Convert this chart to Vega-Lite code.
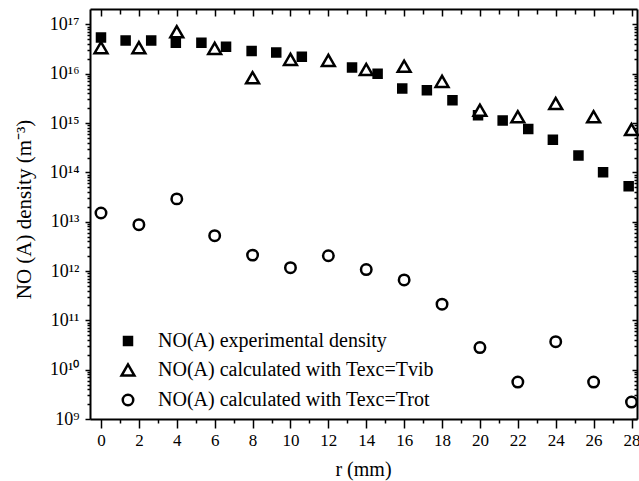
{
  "$schema": "https://vega.github.io/schema/vega-lite/v6.json",
  "autosize": {"type": "none"},
  "padding": {"left": 90, "top": 9, "right": 2, "bottom": 62},
  "width": 547,
  "height": 410,
  "background": "white",
  "config": {
    "view": {"stroke": null},
    "font": "Liberation Serif",
    "axis": {"domainColor": "black", "tickColor": "black", "labelColor": "black", "titleColor": "black", "grid": false, "domainWidth": 2, "tickWidth": 1.5, "labelFont": "Liberation Serif", "titleFont": "Liberation Serif", "labelFlush": false, "labelOverlap": false},
    "legend": {
      "orient": "none", "legendX": 28, "legendY": 322, "title": null, "padding": 0,
      "labelFontSize": 20, "labelFont": "Liberation Serif", "labelColor": "black", "labelLimit": 500,
      "labelOffset": 20, "rowPadding": 8, "symbolStrokeWidth": 2.5, "symbolOpacity": 1
    }
  },
  "datasets": {
    "pts": [
      {"series": "NO(A) experimental density", "r": 0, "density": 5.4e16},
      {"series": "NO(A) experimental density", "r": 1.3, "density": 4.7e16},
      {"series": "NO(A) experimental density", "r": 2.65, "density": 4.7e16},
      {"series": "NO(A) experimental density", "r": 3.95, "density": 4.25e16},
      {"series": "NO(A) experimental density", "r": 5.3, "density": 4.25e16},
      {"series": "NO(A) experimental density", "r": 6.6, "density": 3.5e16},
      {"series": "NO(A) experimental density", "r": 7.95, "density": 2.9e16},
      {"series": "NO(A) experimental density", "r": 9.25, "density": 2.7e16},
      {"series": "NO(A) experimental density", "r": 10.6, "density": 2.2e16},
      {"series": "NO(A) experimental density", "r": 13.25, "density": 1.34e16},
      {"series": "NO(A) experimental density", "r": 14.6, "density": 1.0e16},
      {"series": "NO(A) experimental density", "r": 15.9, "density": 5.0e15},
      {"series": "NO(A) experimental density", "r": 17.2, "density": 4.6e15},
      {"series": "NO(A) experimental density", "r": 18.55, "density": 2.9e15},
      {"series": "NO(A) experimental density", "r": 19.9, "density": 1.44e15},
      {"series": "NO(A) experimental density", "r": 21.2, "density": 1.12e15},
      {"series": "NO(A) experimental density", "r": 22.55, "density": 7.6e14},
      {"series": "NO(A) experimental density", "r": 23.85, "density": 4.6e14},
      {"series": "NO(A) experimental density", "r": 25.2, "density": 2.2e14},
      {"series": "NO(A) experimental density", "r": 26.5, "density": 1.0e14},
      {"series": "NO(A) experimental density", "r": 27.85, "density": 5.2e13},
      {"series": "NO(A) calculated with Texc=Tvib", "r": 0, "density": 3.37e16},
      {"series": "NO(A) calculated with Texc=Tvib", "r": 2, "density": 3.37e16},
      {"series": "NO(A) calculated with Texc=Tvib", "r": 4, "density": 7.1e16},
      {"series": "NO(A) calculated with Texc=Tvib", "r": 6, "density": 3.26e16},
      {"series": "NO(A) calculated with Texc=Tvib", "r": 8, "density": 8.3e15},
      {"series": "NO(A) calculated with Texc=Tvib", "r": 10, "density": 1.95e16},
      {"series": "NO(A) calculated with Texc=Tvib", "r": 12, "density": 1.86e16},
      {"series": "NO(A) calculated with Texc=Tvib", "r": 14, "density": 1.22e16},
      {"series": "NO(A) calculated with Texc=Tvib", "r": 16, "density": 1.42e16},
      {"series": "NO(A) calculated with Texc=Tvib", "r": 18, "density": 7.0e15},
      {"series": "NO(A) calculated with Texc=Tvib", "r": 20, "density": 1.82e15},
      {"series": "NO(A) calculated with Texc=Tvib", "r": 22, "density": 1.34e15},
      {"series": "NO(A) calculated with Texc=Tvib", "r": 24, "density": 2.49e15},
      {"series": "NO(A) calculated with Texc=Tvib", "r": 26, "density": 1.34e15},
      {"series": "NO(A) calculated with Texc=Tvib", "r": 28, "density": 7.4e14},
      {"series": "NO(A) calculated with Texc=Trot", "r": 0, "density": 1.5e13},
      {"series": "NO(A) calculated with Texc=Trot", "r": 2, "density": 8.7e12},
      {"series": "NO(A) calculated with Texc=Trot", "r": 4, "density": 2.9e13},
      {"series": "NO(A) calculated with Texc=Trot", "r": 6, "density": 5.2e12},
      {"series": "NO(A) calculated with Texc=Trot", "r": 8, "density": 2.1e12},
      {"series": "NO(A) calculated with Texc=Trot", "r": 10, "density": 1.17e12},
      {"series": "NO(A) calculated with Texc=Trot", "r": 12, "density": 2.04e12},
      {"series": "NO(A) calculated with Texc=Trot", "r": 14, "density": 1.07e12},
      {"series": "NO(A) calculated with Texc=Trot", "r": 16, "density": 6.6e11},
      {"series": "NO(A) calculated with Texc=Trot", "r": 18, "density": 2.13e11},
      {"series": "NO(A) calculated with Texc=Trot", "r": 20, "density": 2.8e10},
      {"series": "NO(A) calculated with Texc=Trot", "r": 22, "density": 5.6e9},
      {"series": "NO(A) calculated with Texc=Trot", "r": 24, "density": 3.7e10},
      {"series": "NO(A) calculated with Texc=Trot", "r": 26, "density": 5.6e9},
      {"series": "NO(A) calculated with Texc=Trot", "r": 28, "density": 2.2e9}
    ]
  },
  "data": {"name": "pts"},
  "layer": [
    {
      "mark": {"type": "point", "strokeWidth": 2.5, "opacity": 1},
      "encoding": {
        "x": {
          "field": "r", "type": "quantitative",
          "scale": {"domain": [-0.58, 28.29], "nice": false, "zero": false},
          "axis": {
            "orient": "bottom",
            "values": [0,1,2,3,4,5,6,7,8,9,10,11,12,13,14,15,16,17,18,19,20,21,22,23,24,25,26,27,28],
            "labelExpr": "datum.value % 2 === 0 ? datum.label : ''",
            "tickSize": {"condition": {"test": "datum.value % 2 === 0", "value": 9}, "value": 4},
            "labelFontSize": 17,
            "labelPadding": 4,
            "title": "r (mm)",
            "titleFontSize": 20,
            "titleFontWeight": "normal",
            "titleX": 273,
            "titleY": 50,
            "titleBaseline": "middle",
            "titleAlign": "center"
          }
        },
        "y": {
          "field": "density", "type": "quantitative",
          "scale": {"type": "log", "domain": [1e9, 2.05e17], "nice": false},
          "axis": {
            "orient": "left",
            "values": [1e9,2e9,3e9,4e9,5e9,6e9,7e9,8e9,9e9,1e10,2e10,3e10,4e10,5e10,6e10,7e10,8e10,9e10,1e11,2e11,3e11,4e11,5e11,6e11,7e11,8e11,9e11,1e12,2e12,3e12,4e12,5e12,6e12,7e12,8e12,9e12,1e13,2e13,3e13,4e13,5e13,6e13,7e13,8e13,9e13,1e14,2e14,3e14,4e14,5e14,6e14,7e14,8e14,9e14,1e15,2e15,3e15,4e15,5e15,6e15,7e15,8e15,9e15,1e16,2e16,3e16,4e16,5e16,6e16,7e16,8e16,9e16,1e17],
            "labelExpr": "abs(log(datum.value)/LN10 - round(log(datum.value)/LN10)) < 0.001 ? '10' + ['⁹','¹⁰','¹¹','¹²','¹³','¹⁴','¹⁵','¹⁶','¹⁷'][round(log(datum.value)/LN10) - 9] : ''",
            "tickSize": {"condition": {"test": "abs(log(datum.value)/LN10 - round(log(datum.value)/LN10)) < 0.001", "value": 5}, "value": 3},
            "labelFontSize": 18,
            "labelPadding": 6,
            "title": "NO (A) density (m⁻³)",
            "titleFontSize": 21,
            "titleFontWeight": "normal",
            "titleX": -66,
            "titleY": 200,
            "titleAngle": -90,
            "titleBaseline": "middle",
            "titleAlign": "center"
          }
        },
        "shape": {
          "field": "series", "type": "nominal",
          "scale": {"domain": ["NO(A) experimental density", "NO(A) calculated with Texc=Tvib", "NO(A) calculated with Texc=Trot"], "range": ["square", "triangle-up", "circle"]}
        },
        "fill": {
          "field": "series", "type": "nominal",
          "scale": {"domain": ["NO(A) experimental density", "NO(A) calculated with Texc=Tvib", "NO(A) calculated with Texc=Trot"], "range": ["black", "white", "white"]}
        },
        "stroke": {
          "field": "series", "type": "nominal",
          "scale": {"domain": ["NO(A) experimental density", "NO(A) calculated with Texc=Tvib", "NO(A) calculated with Texc=Trot"], "range": ["black", "black", "black"]}
        },
        "size": {
          "field": "series", "type": "nominal",
          "scale": {"type": "ordinal", "domain": ["NO(A) experimental density", "NO(A) calculated with Texc=Tvib", "NO(A) calculated with Texc=Trot"], "range": [64, 165, 110]}
        }
      }
    },
    {
      "mark": {"type": "point", "opacity": 0},
      "encoding": {
        "x": {
          "field": "r", "type": "quantitative",
          "scale": {"domain": [-0.58, 28.29], "nice": false, "zero": false},
          "axis": {
            "orient": "top",
            "values": [0,1,2,3,4,5,6,7,8,9,10,11,12,13,14,15,16,17,18,19,20,21,22,23,24,25,26,27,28],
            "labels": false,
            "tickSize": {"condition": {"test": "datum.value % 2 === 0", "value": -7}, "value": -5},
            "title": null
          }
        },
        "y": {
          "field": "density", "type": "quantitative",
          "scale": {"type": "log", "domain": [1e9, 2.05e17], "nice": false},
          "axis": {
            "orient": "right",
            "values": [1e9,2e9,3e9,4e9,5e9,6e9,7e9,8e9,9e9,1e10,2e10,3e10,4e10,5e10,6e10,7e10,8e10,9e10,1e11,2e11,3e11,4e11,5e11,6e11,7e11,8e11,9e11,1e12,2e12,3e12,4e12,5e12,6e12,7e12,8e12,9e12,1e13,2e13,3e13,4e13,5e13,6e13,7e13,8e13,9e13,1e14,2e14,3e14,4e14,5e14,6e14,7e14,8e14,9e14,1e15,2e15,3e15,4e15,5e15,6e15,7e15,8e15,9e15,1e16,2e16,3e16,4e16,5e16,6e16,7e16,8e16,9e16,1e17],
            "labels": false,
            "tickSize": {"condition": {"test": "abs(log(datum.value)/LN10 - round(log(datum.value)/LN10)) < 0.001", "value": -5}, "value": -3},
            "title": null
          }
        }
      }
    }
  ],
  "resolve": {"axis": {"x": "independent", "y": "independent"}}
}
